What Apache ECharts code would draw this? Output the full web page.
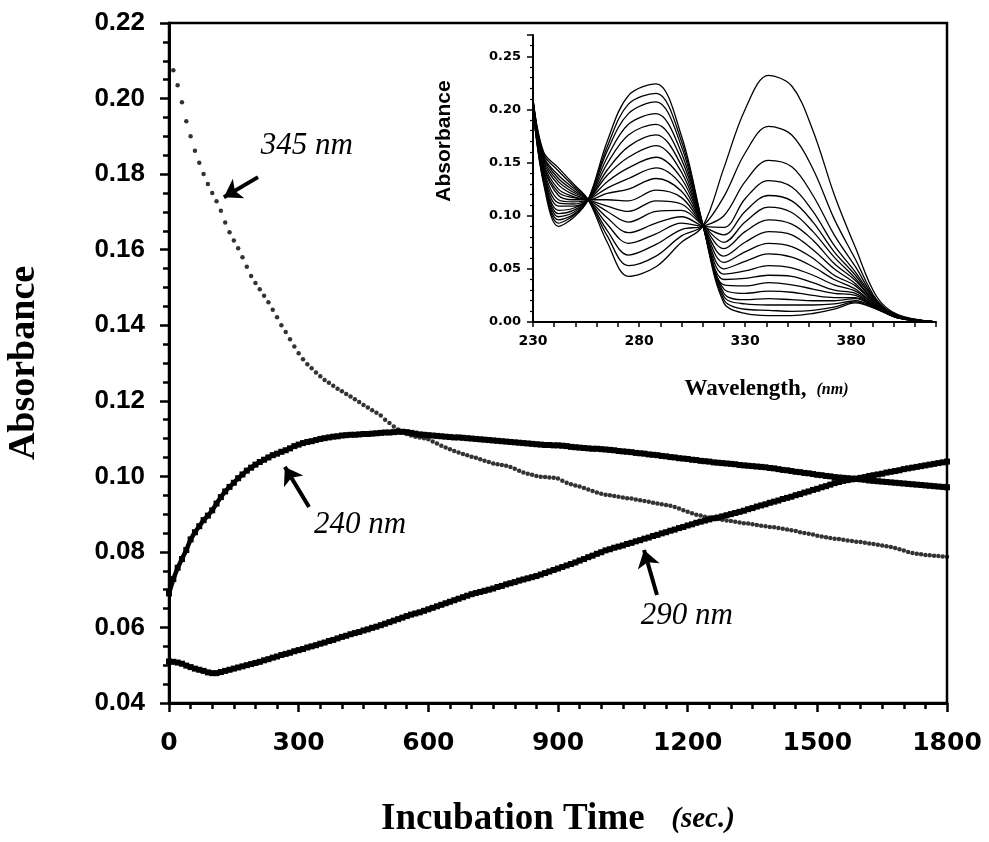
<!DOCTYPE html>
<html><head><meta charset="utf-8">
<script src="https://cdn.jsdelivr.net/npm/echarts@6/dist/echarts.min.js"></script>
<style>html,body{margin:0;padding:0;background:#fff}#c{width:989px;height:842px}</style>
</head><body><div id="c"></div>
<script>
// Sampling interval of the kinetic traces (seconds)
const TIME_STEP = 10;

// Absorbance at 240 nm, t = 0..1800 s every 10 s
const A240 = [
0.0690,0.0728,0.0758,0.0781,0.0805,0.0833,0.0852,0.0868,0.0884,0.0896,
0.0910,0.0928,0.0945,0.0960,0.0972,0.0983,0.0995,0.1005,0.1015,0.1023,
0.1031,0.1038,0.1044,0.1050,0.1056,0.1060,0.1065,0.1069,0.1074,0.1080,
0.1084,0.1088,0.1091,0.1093,0.1096,0.1099,0.1101,0.1103,0.1105,0.1106,
0.1108,0.1109,0.1110,0.1110,0.1111,0.1112,0.1112,0.1113,0.1114,0.1115,
0.1116,0.1116,0.1117,0.1118,0.1118,0.1117,0.1115,0.1113,0.1111,0.1110,
0.1109,0.1108,0.1107,0.1106,0.1105,0.1104,0.1103,0.1103,0.1102,0.1101,
0.1100,0.1099,0.1098,0.1097,0.1096,0.1095,0.1094,0.1093,0.1092,0.1091,
0.1090,0.1089,0.1088,0.1087,0.1086,0.1085,0.1084,0.1083,0.1083,0.1082,
0.1082,0.1081,0.1080,0.1078,0.1077,0.1076,0.1075,0.1074,0.1073,0.1073,
0.1072,0.1071,0.1070,0.1069,0.1067,0.1066,0.1065,0.1064,0.1062,0.1061,
0.1060,0.1058,0.1057,0.1056,0.1054,0.1053,0.1051,0.1050,0.1048,0.1047,
0.1046,0.1044,0.1043,0.1041,0.1040,0.1039,0.1037,0.1036,0.1035,0.1034,
0.1033,0.1032,0.1030,0.1029,0.1028,0.1027,0.1026,0.1025,0.1024,0.1022,
0.1021,0.1019,0.1017,0.1016,0.1014,0.1012,0.1011,0.1009,0.1008,0.1006,
0.1004,0.1003,0.1001,0.1000,0.0998,0.0997,0.0996,0.0995,0.0994,0.0993,
0.0992,0.0991,0.0989,0.0988,0.0987,0.0986,0.0985,0.0984,0.0983,0.0982,
0.0981,0.0980,0.0979,0.0978,0.0977,0.0976,0.0975,0.0974,0.0973,0.0972,
0.0971];

// Absorbance at 290 nm
const A290 = [
0.0510,0.0509,0.0507,0.0504,0.0499,0.0495,0.0491,0.0488,0.0485,0.0481,
0.0479,0.0479,0.0482,0.0485,0.0488,0.0491,0.0494,0.0497,0.0500,0.0503,
0.0506,0.0509,0.0513,0.0516,0.0520,0.0523,0.0527,0.0530,0.0533,0.0537,
0.0540,0.0543,0.0547,0.0550,0.0553,0.0557,0.0560,0.0564,0.0567,0.0571,
0.0575,0.0578,0.0582,0.0585,0.0588,0.0592,0.0595,0.0599,0.0602,0.0606,
0.0610,0.0614,0.0618,0.0622,0.0626,0.0630,0.0634,0.0637,0.0640,0.0644,
0.0648,0.0652,0.0656,0.0660,0.0664,0.0668,0.0672,0.0676,0.0680,0.0684,
0.0688,0.0691,0.0694,0.0697,0.0700,0.0703,0.0707,0.0710,0.0714,0.0717,
0.0720,0.0724,0.0727,0.0730,0.0733,0.0736,0.0740,0.0744,0.0748,0.0752,
0.0756,0.0760,0.0764,0.0768,0.0772,0.0777,0.0781,0.0786,0.0790,0.0795,
0.0799,0.0804,0.0807,0.0811,0.0814,0.0817,0.0821,0.0824,0.0828,0.0831,
0.0835,0.0838,0.0842,0.0845,0.0849,0.0852,0.0856,0.0859,0.0863,0.0866,
0.0870,0.0873,0.0877,0.0880,0.0883,0.0886,0.0889,0.0891,0.0894,0.0897,
0.0900,0.0903,0.0906,0.0909,0.0913,0.0916,0.0920,0.0923,0.0926,0.0930,
0.0933,0.0936,0.0940,0.0943,0.0946,0.0950,0.0953,0.0957,0.0960,0.0964,
0.0967,0.0971,0.0974,0.0978,0.0982,0.0985,0.0988,0.0990,0.0992,0.0994,
0.0996,0.0998,0.1001,0.1003,0.1005,0.1007,0.1010,0.1012,0.1014,0.1016,
0.1019,0.1021,0.1023,0.1025,0.1027,0.1029,0.1031,0.1033,0.1035,0.1037,
0.1039];

// Absorbance at 345 nm (no reading at t = 0)
const A345 = [
null,0.2075,0.2035,0.1990,0.1940,0.1900,0.1862,0.1830,0.1800,0.1774,
0.1750,0.1728,0.1703,0.1672,0.1646,0.1624,0.1604,0.1580,0.1555,0.1530,
0.1512,0.1495,0.1478,0.1461,0.1441,0.1421,0.1400,0.1382,0.1363,0.1344,
0.1326,0.1310,0.1297,0.1286,0.1275,0.1265,0.1255,0.1248,0.1240,0.1232,
0.1225,0.1218,0.1211,0.1204,0.1197,0.1189,0.1182,0.1175,0.1168,0.1161,
0.1150,0.1141,0.1132,0.1124,0.1117,0.1112,0.1108,0.1105,0.1103,0.1101,
0.1098,0.1092,0.1087,0.1081,0.1076,0.1072,0.1067,0.1063,0.1059,0.1056,
0.1052,0.1049,0.1045,0.1041,0.1038,0.1034,0.1032,0.1030,0.1028,0.1025,
0.1020,0.1015,0.1010,0.1007,0.1004,0.1001,0.0999,0.0998,0.0997,0.0996,
0.0994,0.0988,0.0983,0.0979,0.0976,0.0973,0.0969,0.0965,0.0961,0.0957,
0.0954,0.0951,0.0950,0.0948,0.0946,0.0944,0.0942,0.0941,0.0939,0.0937,
0.0935,0.0933,0.0930,0.0928,0.0926,0.0924,0.0922,0.0919,0.0915,0.0910,
0.0906,0.0902,0.0898,0.0896,0.0893,0.0891,0.0889,0.0887,0.0885,0.0883,
0.0882,0.0880,0.0878,0.0876,0.0875,0.0873,0.0871,0.0869,0.0868,0.0866,
0.0865,0.0863,0.0861,0.0859,0.0857,0.0855,0.0852,0.0850,0.0848,0.0846,
0.0843,0.0841,0.0839,0.0837,0.0835,0.0834,0.0832,0.0830,0.0829,0.0827,
0.0826,0.0824,0.0822,0.0821,0.0819,0.0817,0.0815,0.0813,0.0810,0.0807,
0.0804,0.0800,0.0797,0.0795,0.0794,0.0792,0.0791,0.0790,0.0789,0.0788,
0.0787];

// Inset: wavelengths (nm) and the spectra recorded during the incubation
const WAVELENGTHS = [230,235,242,249,256,265,275,288,300,310,320,330,341,352,362,372,382,392,402,420];
const SPECTRA = [
[.210,.160,.145,.130,.115,.075,.043,.052,.075,.090,.145,.200,.232,.222,.180,.120,.070,.024,.007,0],
[.209,.158,.142,.128,.115,.081,.053,.062,.081,.090,.118,.159,.184,.176,.144,.097,.059,.021,.006,0],
[.209,.156,.138,.126,.115,.086,.063,.073,.087,.090,.100,.132,.152,.146,.119,.082,.052,.020,.006,0],
[.208,.155,.135,.124,.115,.092,.074,.083,.093,.090,.089,.116,.133,.127,.104,.072,.047,.019,.006,0],
[.208,.153,.132,.122,.115,.098,.084,.093,.099,.090,.082,.104,.119,.114,.094,.066,.044,.018,.006,0],
[.207,.151,.129,.120,.115,.104,.094,.104,.105,.091,.075,.094,.108,.103,.085,.061,.041,.017,.005,0],
[.206,.149,.125,.118,.115,.109,.104,.114,.111,.091,.069,.085,.096,.092,.077,.055,.039,.017,.005,0],
[.206,.147,.122,.117,.115,.115,.114,.124,.117,.091,.062,.075,.085,.082,.068,.050,.036,.016,.005,0],
[.205,.146,.119,.115,.115,.121,.125,.135,.123,.091,.056,.066,.074,.071,.060,.044,.034,.016,.005,0],
[.205,.144,.115,.113,.115,.126,.135,.145,.129,.091,.050,.057,.064,.061,.052,.040,.031,.015,.005,0],
[.204,.142,.112,.111,.115,.132,.145,.155,.135,.091,.045,.048,.053,.051,.044,.035,.029,.015,.005,0],
[.203,.140,.109,.109,.115,.138,.155,.166,.141,.091,.040,.041,.044,.043,.037,.030,.027,.014,.005,0],
[.203,.138,.105,.107,.115,.143,.165,.176,.147,.091,.035,.034,.037,.035,.031,.027,.025,.014,.004,0],
[.202,.137,.102,.105,.115,.149,.176,.186,.153,.092,.031,.027,.029,.028,.025,.023,.023,.013,.004,0],
[.202,.135,.099,.103,.115,.155,.186,.196,.159,.092,.027,.021,.022,.021,.020,.020,.022,.013,.004,0],
[.201,.133,.096,.101,.115,.161,.196,.207,.165,.092,.024,.017,.016,.016,.016,.017,.020,.013,.004,0],
[.200,.132,.093,.100,.115,.165,.205,.215,.170,.092,.021,.012,.011,.010,.011,.014,.019,.012,.004,0],
[.200,.130,.090,.098,.115,.170,.213,.224,.175,.092,.018,.008,.006,.006,.008,.012,.018,.012,.004,0]
];

const SANS = 'Liberation Sans', SERIF = 'Liberation Serif', DJ = 'DejaVu Sans';
const toXY = arr => arr.map((v, i) => [i * TIME_STEP, v]).filter(p => p[1] != null);

const chart = echarts.init(document.getElementById('c'), null, {renderer: 'canvas'});

const arrowLine = (from, to) => [{coord: from}, {coord: to}];
const noteStyle = {show: true, position: 'inside', color: '#000', fontFamily: SERIF, fontStyle: 'italic', fontSize: 31, formatter: '{b}'};
const arrowOpts = data => ({silent: true, symbol: ['none', 'arrow'], symbolSize: 17, label: {show: false},
  lineStyle: {color: '#000', width: 4, type: 'solid'}, data: data});
const noteOpts = data => ({silent: true, symbol: 'circle', symbolSize: 1, itemStyle: {color: 'rgba(0,0,0,0)'},
  label: noteStyle, data: data});

const insetSeries = SPECTRA.map(s => ({
  type: 'line', xAxisIndex: 1, yAxisIndex: 1, smooth: 0.35, showSymbol: false, silent: true,
  lineStyle: {color: '#000', width: 1.3},
  data: WAVELENGTHS.map((w, i) => [w, s[i]])
}));

const thickTrace = (name, arr, arrow, note) => ({
  name: name, type: 'line', xAxisIndex: 0, yAxisIndex: 0, symbol: 'rect', symbolSize: 6, showAllSymbol: true,
  lineStyle: {color: '#000', width: 4.5}, itemStyle: {color: '#000'}, silent: true, data: toXY(arr),
  markLine: arrowOpts([arrow]), markPoint: noteOpts([note])
});

const option = {
  animation: false,
  backgroundColor: '#fff',
  grid: [
    {left: 169, right: 42, top: 23, bottom: 139, containLabel: false, outerBoundsMode: 'none',
     show: true, borderColor: '#000', borderWidth: 2.5, backgroundColor: 'transparent'},
    {left: 533, right: 53, top: 35, bottom: 520, containLabel: false, outerBoundsMode: 'none'}
  ],
  xAxis: [
    {
      gridIndex: 0, type: 'value', min: 0, max: 1800, interval: 300,
      axisLine: {onZero: false, lineStyle: {color: '#000', width: 3}},
      axisTick: {length: 9, lineStyle: {color: '#000', width: 2.5}},
      minorTick: {show: true, splitNumber: 6, length: 6, lineStyle: {color: '#000', width: 2.5}},
      splitLine: {show: false},
      axisLabel: {margin: 28, fontFamily: DJ, fontWeight: 'bold', fontSize: 25, color: '#000',
        formatter: v => String(v)},
      name: '{a|Incubation Time}        {b|(sec.)}', nameLocation: 'middle', nameGap: 98,
      nameTextStyle: {rich: {
        a: {fontFamily: SERIF, fontWeight: 'bold', fontSize: 37, color: '#000'},
        b: {fontFamily: SERIF, fontWeight: 'bold', fontStyle: 'italic', fontSize: 29, color: '#000'}
      }}
    },
    {
      gridIndex: 1, type: 'value', min: 230, max: 420, interval: 10,
      axisLine: {onZero: false, lineStyle: {color: '#000', width: 2}},
      axisTick: {length: 5, lineStyle: {color: '#000', width: 1.5}},
      splitLine: {show: false},
      axisLabel: {margin: 12, fontFamily: DJ, fontWeight: 'bold', fontSize: 14, color: '#000',
        formatter: v => ((v - 230) % 50 === 0 ? String(v) : '')},
      name: '{a|Wavelength,}   {b|(nm)}', nameLocation: 'middle', nameGap: 56,
      nameTextStyle: {padding: [0, 0, 0, 64], rich: {
        a: {fontFamily: SERIF, fontWeight: 'bold', fontSize: 23, color: '#000'},
        b: {fontFamily: SERIF, fontWeight: 'bold', fontStyle: 'italic', fontSize: 16, color: '#000'}
      }}
    }
  ],
  yAxis: [
    {
      gridIndex: 0, type: 'value', min: 0.04, max: 0.22, interval: 0.02,
      axisLine: {onZero: false, lineStyle: {color: '#000', width: 3}},
      axisTick: {length: 9, lineStyle: {color: '#000', width: 2.5}},
      minorTick: {show: true, splitNumber: 4, length: 6, lineStyle: {color: '#000', width: 2.5}},
      splitLine: {show: false},
      axisLabel: {margin: 24, fontFamily: SANS, fontWeight: 'bold', fontSize: 26, color: '#000',
        formatter: v => v.toFixed(2)},
      name: 'Absorbance', nameLocation: 'middle', nameGap: 126, nameRotate: 90,
      nameTextStyle: {fontFamily: SERIF, fontWeight: 'bold', fontSize: 38, color: '#000'}
    },
    {
      gridIndex: 1, type: 'value', min: 0, max: 0.27, interval: 0.05,
      axisLine: {onZero: false, lineStyle: {color: '#000', width: 2}},
      axisTick: {length: 6, lineStyle: {color: '#000', width: 1.5}},
      minorTick: {show: true, splitNumber: 5, length: 3, lineStyle: {color: '#000', width: 1.2}},
      splitLine: {show: false},
      axisLabel: {margin: 12, fontFamily: DJ, fontWeight: 'bold', fontSize: 13, color: '#000',
        formatter: v => (Math.abs(v * 20 - Math.round(v * 20)) < 1e-6 ? v.toFixed(2) : '')},
      name: 'Absorbance', nameLocation: 'middle', nameGap: 78, nameRotate: 90,
      nameTextStyle: {fontFamily: SANS, fontWeight: 'bold', fontSize: 21, color: '#000', padding: [0, 0, 0, 75]}
    }
  ],
  series: [
    {
      name: '345 nm', type: 'scatter', xAxisIndex: 0, yAxisIndex: 0, symbol: 'circle', symbolSize: 4.5,
      itemStyle: {color: '#000'}, silent: true, data: toXY(A345),
      markLine: arrowOpts([arrowLine([206, 0.1792], [127, 0.1739])]),
      markPoint: noteOpts([{name: '345 nm', coord: [319, 0.1874]}])
    },
    thickTrace('240 nm', A240, arrowLine([324, 0.0919], [268, 0.1025]), {name: '240 nm', coord: [442, 0.0871]}),
    thickTrace('290 nm', A290, arrowLine([1129, 0.0686], [1099, 0.0805]), {name: '290 nm', coord: [1198, 0.0630]})
  ].concat(insetSeries)
};
chart.setOption(option);
</script>
</body></html>
